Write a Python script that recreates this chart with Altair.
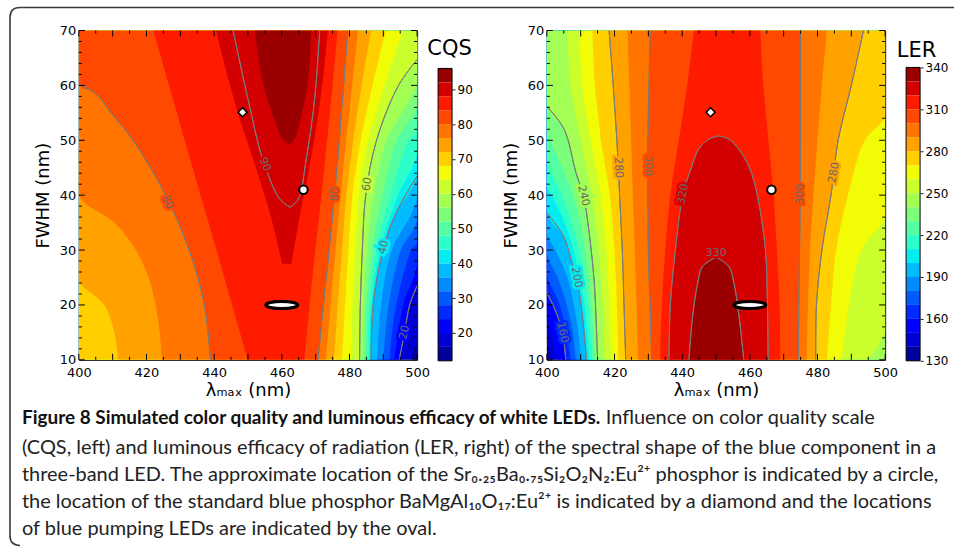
import altair as alt
import pandas as pd

# ---------------------------------------------------------------------------
# Filled-contour data.  For every contour level the rows give
# (FWHM, left lambda, right lambda) of the region where the value >= level.
# ---------------------------------------------------------------------------
CQS_LEVELS = [12, 16, 20, 24, 28, 32, 36, 40, 44, 48, 52, 56, 60, 64, 68, 72, 76, 80, 84, 88, 92]
CQS_TOP = 96
CQS_BOUNDS = {
    12: [(10, 400, 500), (70, 400, 500)],
    16: [(10, 400, 498.0), (14, 400, 500), (70, 400, 500)],
    20: [(10, 400, 494.7), (15, 400, 496.3), (20, 400, 497.8), (23.5, 400, 500), (70, 400, 500)],
    24: [(10, 400, 493.3), (20, 400, 495.9), (27.5, 400, 500), (70, 400, 500)],
    28: [(10, 400, 491.8), (20, 400, 493.8), (30, 400, 498.3), (31.5, 400, 500), (70, 400, 500)],
    32: [(10, 400, 490.0), (20, 400, 491.6), (30, 400, 495.2), (35.5, 400, 500), (70, 400, 500)],
    36: [(10, 400, 488.2), (20, 400, 489.3), (30, 400, 492.5), (39.5, 400, 500), (70, 400, 500)],
    40: [(10, 400, 486.4), (20, 400, 487.0), (30, 400, 489.9), (36.8, 400, 493.8), (43.5, 400, 500), (70, 400, 500)],
    44: [(10, 400, 485.9), (20, 400, 486.4), (30, 400, 489.0), (40, 400, 494.4), (47.7, 400, 500), (70, 400, 500)],
    48: [(10, 400, 485.3), (20, 400, 485.8), (30, 400, 487.9), (40, 400, 492.1), (50, 400, 497.5), (52, 400, 500), (70, 400, 500)],
    52: [(10, 400, 484.6), (20, 400, 485.0), (30, 400, 486.6), (40, 400, 489.7), (50, 400, 494.0), (56.2, 400, 500), (70, 400, 500)],
    56: [(10, 400, 483.8), (20, 400, 484.1), (30, 400, 485.2), (40, 400, 487.2), (50, 400, 491.0), (60.5, 400, 500), (70, 400, 500)],
    60: [(10, 400, 483.0), (20, 400, 483.2), (30, 400, 483.8), (40, 400, 484.8), (50, 400, 488.0), (60, 400, 494.5), (64.7, 400, 500), (70, 400, 500)],
    64: [(10, 400, 480.4), (20, 400, 480.9), (30, 400, 481.7), (40, 400, 482.8), (50, 400, 485.6), (60, 400, 490.4), (70, 400, 495.8)],
    68: [(10, 400, 477.8), (20, 400, 478.7), (30, 400, 479.7), (40, 400, 480.9), (50, 400, 483.3), (60, 400, 486.8), (70, 400, 490.8)],
    72: [(10, 411.6, 475.4), (15, 410.5, 476.0), (20, 407.5, 476.5), (24.4, 400, 477.1), (30, 400, 477.8),
         (40, 400, 479.1), (50, 400, 481.1), (60, 400, 483.6), (70, 400, 486.4)],
    76: [(10, 424.6, 473.0), (15, 423.9, 473.7), (20, 422.7, 474.4), (25, 420.6, 475.1), (30, 416.8, 475.9),
         (35, 410.5, 476.6), (39.9, 400, 477.4), (50, 400, 479.0), (60, 400, 480.8), (70, 400, 482.5)],
    80: [(10, 438.9, 470.7), (20, 437.1, 472.3), (30, 432.6, 474.0), (40, 425.6, 475.6), (50, 416.0, 477.0),
         (55, 409.5, 477.6), (58.4, 405.2, 478.1), (60.2, 400, 478.3), (70, 400, 479.5)],
    84: [(10, 450.0, 466.7), (20, 445.3, 468.2), (30, 440.7, 469.9), (40, 436.0, 471.7), (50, 431.3, 473.4),
         (60, 426.7, 475.0), (70, 422.0, 476.5)],
    88: [(27.5, 460.1, 462.8), (32, 458.4, 464.1), (36.2, 456.7, 465.3), (45.3, 452.2, 468.2),
         (54.4, 447.3, 470.7), (63.5, 443.2, 472.6), (70, 440.6, 473.6)],
    92: [(49.3, 462.3, 462.3), (50.2, 460.3, 463.8), (54.4, 457.4, 465.7), (60.5, 454.4, 467.7), (70, 452.0, 468.7)],
}
CQS_LINE_LEVELS = [20, 40, 60, 80]
# the CQS = 90 iso-line (drawn, not filled)
CQS_LINE_90 = [(37.8, 462.5, 462.5), (39.3, 459.4, 464.9), (46.5, 454.4, 467.2), (57.5, 450.0, 469.7), (70, 445.6, 471.2)]
# label text, lambda, FWHM, rotation, band whose colour surrounds the label
CQS_LABELS = [("80", 426.2, 38.7, 63, "80"), ("90", 455.0, 45.6, 68, "88"), ("80", 475.6, 40.2, 275, "80"),
              ("60", 485.3, 42.0, 280, "60"), ("40", 490.2, 30.5, 285, "40"), ("20", 496.3, 15.0, 283, "20")]
CQS_TICKS = [20, 30, 40, 50, 60, 70, 80, 90]

LER_LEVELS = [130, 140, 150, 160, 170, 180, 190, 200, 210, 220, 230, 240, 250, 260, 270, 280, 290, 300, 310, 320, 330]
LER_TOP = 340
LER_BOUNDS = {
    130: [(10, 400, 500), (70, 400, 500)],
    140: [(10, 401.0, 500), (13.5, 400, 500), (70, 400, 500)],
    150: [(10, 403.2, 500), (15, 401.2, 500), (18.5, 400, 500), (70, 400, 500)],
    160: [(10, 405.6, 500), (15, 404.6, 500), (18.7, 402.7, 500), (22.3, 400, 500), (70, 400, 500)],
    170: [(10, 407.1, 500), (15, 405.8, 500), (20, 403.8, 500), (25.9, 400, 500), (70, 400, 500)],
    180: [(10, 408.6, 500), (15, 407.6, 500), (20, 405.9, 500), (25, 403.2, 500), (29.5, 400, 500), (70, 400, 500)],
    190: [(10, 410.1, 500), (15, 409.3, 500), (20, 408.0, 500), (25, 406.1, 500), (30, 402.5, 500), (33.2, 400, 500), (70, 400, 500)],
    200: [(10, 411.7, 500), (18, 410.5, 500), (25, 408.8, 500), (27.2, 407.6, 500), (32.3, 405.1, 500), (36.8, 400, 500), (70, 400, 500)],
    210: [(10, 412.5, 500), (20, 411.1, 500), (30, 407.9, 500), (35, 405.3, 500), (40, 401.5, 500), (41.7, 400, 500), (70, 400, 500)],
    220: [(10, 413.4, 500), (20, 412.2, 500), (30, 409.6, 500), (40, 404.5, 500), (46.6, 400, 500), (70, 400, 500)],
    230: [(10, 414.2, 500), (20, 413.2, 500), (30, 411.3, 500), (40, 407.7, 500), (50, 401.0, 500), (51.5, 400, 500), (70, 400, 500)],
    240: [(10, 415.0, 500), (15, 414.7, 500), (24.1, 414.0, 500), (33.2, 412.5, 500), (39.9, 410.8, 500),
          (44.1, 408.6, 500), (52, 405.1, 500), (56.2, 400, 500), (70, 400, 500)],
    250: [(10, 417.1, 495.0), (15, 416.8, 500), (20, 416.4, 500), (30, 415.3, 500), (40, 413.3, 500),
          (50, 410.0, 500), (60, 407.0, 500), (70, 406.1, 500)],
    260: [(10, 419.1, 487.2), (20, 418.5, 489.3), (30, 417.6, 493.0), (36, 416.6, 500), (40, 416.0, 500),
          (50, 413.0, 500), (60, 410.5, 500), (70, 409.5, 500)],
    270: [(10, 421.2, 482.8), (20, 420.7, 484.0), (30, 420.0, 485.5), (40, 418.6, 489.0), (50, 416.0, 494.0),
          (54.4, 415.2, 500), (60, 414.2, 500), (70, 413.5, 500)],
    280: [(10, 423.3, 479.5), (20, 422.8, 479.7), (30, 422.3, 481.3), (40, 421.5, 484.0), (50, 420.7, 486.1),
          (60, 419.6, 490.0), (70, 418.4, 493.6)],
    290: [(10, 427.0, 476.8), (20, 426.5, 477.2), (30, 426.0, 477.8), (40, 425.4, 478.8), (50, 424.9, 480.0),
          (60, 424.4, 481.3), (70, 423.8, 482.8)],
    300: [(10, 431.0, 474.3), (20, 430.5, 474.5), (30, 430.0, 474.7), (40, 429.8, 474.9), (50, 429.8, 475.0),
          (60, 430.2, 475.0), (70, 430.5, 475.0)],
    310: [(10, 433.5, 469.0), (20, 434.0, 468.8), (30, 435.0, 468.0), (40, 436.5, 467.0), (50, 439.0, 465.5),
          (60, 441.5, 464.0), (70, 443.5, 463.1)],
    320: [(10, 436.1, 465.4), (20, 436.5, 465.2), (30, 438.0, 464.6), (40, 440.2, 462.2), (45, 442.7, 459.9),
          (48.4, 444.9, 456.7), (50.2, 447.9, 453.8), (50.8, 450.8, 450.8)],
    330: [(10, 442.0, 458.2), (18, 443.1, 456.8), (24, 444.6, 455.3), (27, 446.0, 453.8), (28.7, 450.0, 450.0)],
}
LER_LINE_LEVELS = [160, 200, 240, 280, 300, 320, 330]
LER_LABELS = [("160", 404.6, 15.0, 78, "160"), ("200", 408.8, 25.0, 79, "200"), ("240", 410.8, 39.9, 77, "240"),
              ("280", 421.1, 45.0, 87, "280"), ("300", 429.8, 45.3, 90, "300"), ("320", 440.3, 40.2, 281, "320"),
              ("330", 450.1, 29.4, 0, "320"), ("300", 474.9, 40.2, 270, "300"), ("280", 484.9, 44.1, 281, "280")]
LER_TICKS = [130, 160, 190, 220, 250, 280, 310, 340]

# phosphor / LED locations (lambda_max, FWHM)
DIAMOND = (448.4, 55.1)
CIRCLE = (466.4, 41.0)
OVAL = (460.0, 20.0)

X_LABELS = [400, 420, 440, 460, 480, 500]
Y_LABELS = [10, 20, 30, 40, 50, 60, 70]
X_MAJOR = [400, 410, 420, 430, 440, 450, 460, 470, 480, 490, 500]
X_MINOR = [405, 415, 425, 435, 445, 455, 465, 475, 485, 495]
Y_MAJOR = [10, 20, 30, 40, 50, 60, 70]
Y_MINOR = [12, 14, 16, 18, 22, 24, 26, 28, 32, 34, 36, 38, 42, 44, 46, 48, 52, 54, 56, 58, 62, 64, 66, 68]

CAPTION_BOLD = "Figure 8 Simulated color quality and luminous efficacy of white LEDs."
CAPTION_REST = "Influence on color quality scale"
CAPTION_LINES = [
    "(CQS, left) and luminous efficacy of radiation (LER, right) of the spectral shape of the blue component in a",
    "three-band LED. The approximate location of the Sr\u2080.\u2082\u2085Ba\u2080.\u2087\u2085Si\u2082O\u2082N\u2082:Eu\u00b2\u207a phosphor is indicated by a circle,",
    "the location of the standard blue phosphor BaMgAl\u2081\u2080O\u2081\u2087:Eu\u00b2\u207a is indicated by a diamond and the locations",
    "of blue pumping LEDs are indicated by the oval.",
]

# ---------------------------------------------------------------------------
W, H = 339, 330          # plot area of each panel
FONT = "DejaVu Sans"
CAP_FONT = "Lato, Liberation Sans, sans-serif"
LINE_GRAY = "#7a7a7a"

JET = {
    "r": [(0, 0), (0.35, 0), (0.66, 1), (0.89, 1), (1, 0.5)],
    "g": [(0, 0), (0.125, 0), (0.375, 1), (0.64, 1), (0.91, 0), (1, 0)],
    "b": [(0, 0.5), (0.11, 1), (0.34, 1), (0.65, 0), (1, 0)],
}


def _piece(pts, v):
    for (x0, y0), (x1, y1) in zip(pts[:-1], pts[1:]):
        if x0 <= v <= x1:
            return y0 + (y1 - y0) * (v - x0) / (x1 - x0)
    return pts[-1][1]


def jet(v):
    return "#" + "".join("%02x" % round(255 * _piece(JET[c], v)) for c in "rgb")


def band_colors(levels, top):
    uppers = levels[1:] + [top]
    return [jet(((lo + hi) / 2 - levels[0]) / (top - levels[0])) for lo, hi in zip(levels, uppers)]


def branches(rows):
    """Left and right boundary curves of a region, without the parts lying on the frame."""
    out = []
    for idx, edge in ((1, 400), (2, 500)):
        pts = [(r[0], r[idx]) for r in rows]
        inner = [abs(x - edge) > 1e-9 for _, x in pts]
        if not any(inner):
            continue
        n = len(pts)
        keep = [inner[i] or (i > 0 and inner[i - 1]) or (i < n - 1 and inner[i + 1]) for i in range(n)]
        out.append([p for p, k in zip(pts, keep) if k])
    return out


def build_panel(levels, top, bounds, line_levels, extra_lines, labels, cb_ticks, cb_title,
                cb_top, title_dx, title_dy, extra_layers=()):
    names = [str(v) for v in levels]
    colors = band_colors(levels, top)
    cscale = alt.Scale(domain=names, range=colors)
    sscale = alt.Scale(domain=names, range=colors)
    xs = alt.Scale(domain=[400, 500], nice=False, zero=False)
    ys = alt.Scale(domain=[10, 70], nice=False, zero=False)
    xax = alt.Axis(values=X_LABELS, format="d", title="\u03bb\u2098\u2090\u2093 (nm)", labelFont=FONT,
                   labelFontSize=13, labelColor="black", titleFont=FONT, titleFontSize=18,
                   titleFontWeight="normal", titleColor="black", ticks=False, domain=False, grid=False,
                   labelPadding=7, titlePadding=2, labelFlush=False, labelOverlap=False)
    yax = alt.Axis(values=Y_LABELS, format="d", title="FWHM (nm)", labelFont=FONT, labelFontSize=13,
                   labelColor="black", titleFont=FONT, titleFontSize=18, titleFontWeight="normal",
                   titleColor="black", ticks=False, domain=False, grid=False, labelPadding=3,
                   titlePadding=7, labelFlush=False, labelOverlap=False)

    def X(f):
        return alt.X(f"{f}:Q", scale=xs, axis=xax, stack=False)

    def Y(f):
        return alt.Y(f"{f}:Q", scale=ys, axis=yax)

    layers = []
    # filled bands: each level painted over the lower ones
    for lv in levels:
        df = pd.DataFrame(bounds[lv], columns=["fwhm", "lo", "hi"])
        df["band"] = str(lv)
        layers.append(
            alt.Chart(df).mark_area(orient="horizontal", interpolate="catmull-rom", clip=True).encode(
                x=X("lo"), x2="hi:Q", y=Y("fwhm"),
                color=alt.Color("band:N", scale=cscale, legend=None)))

    # iso-lines
    recs = []
    sources = [(str(lv), bounds[lv]) for lv in line_levels] + [(f"x{i}", r) for i, r in enumerate(extra_lines)]
    for key, rows in sources:
        for k, br in enumerate(branches(rows)):
            for f, x in br:
                recs.append({"fwhm": f, "lx": x, "seg": f"{key}-{k}"})
    ldf = pd.DataFrame(recs)
    layers.append(
        alt.Chart(ldf).mark_area(orient="horizontal", interpolate="catmull-rom", fillOpacity=0,
                                 stroke=LINE_GRAY, strokeWidth=1, clip=True).encode(
            x=X("lx"), x2="lx:Q", y=Y("fwhm"), detail="seg:N"))

    # inline contour labels: a halo in the surrounding band colour hides the line under the text
    lab = pd.DataFrame(labels, columns=["t", "lam", "fwhm", "ang", "band"])
    layers.append(
        alt.Chart(lab).mark_text(font=FONT, fontSize=11, align="center", baseline="middle",
                                 strokeWidth=5).encode(
            x=X("lam"), y=Y("fwhm"), text="t:N", angle=alt.Angle("ang:Q", scale=None),
            color=alt.Color("band:N", scale=cscale, legend=None),
            stroke=alt.Stroke("band:N", scale=sscale, legend=None)))
    layers.append(
        alt.Chart(lab).mark_text(font=FONT, fontSize=11, color="#6a6a6a", align="center",
                                 baseline="middle").encode(
            x=X("lam"), y=Y("fwhm"), text="t:N", angle=alt.Angle("ang:Q", scale=None)))

    # markers
    def pt(p):
        return pd.DataFrame({"lam": [p[0]], "fwhm": [p[1]]})

    layers.append(alt.Chart(pt(OVAL)).mark_point(
        shape="M-1,0A1,0.22,0,1,0,1,0A1,0.22,0,1,0,-1,0Z", size=1024, filled=True, fill="white",
        stroke="black", strokeWidth=3, opacity=1).encode(x=X("lam"), y=Y("fwhm")))
    layers.append(alt.Chart(pt(CIRCLE)).mark_point(
        shape="circle", size=72, filled=True, fill="white", stroke="black", strokeWidth=2,
        opacity=1).encode(x=X("lam"), y=Y("fwhm")))
    layers.append(alt.Chart(pt(DIAMOND)).mark_point(
        shape="diamond", size=80, filled=True, fill="white", stroke="black", strokeWidth=1.5,
        opacity=1).encode(x=X("lam"), y=Y("fwhm")))

    # inward ticks on all four sides
    for vals, ln in ((X_MAJOR, 6), (X_MINOR, 3)):
        d = pd.DataFrame({"t": vals})
        layers.append(alt.Chart(d).mark_rule(color="black", strokeWidth=1).encode(
            x=X("t"), y=alt.value(H), y2=alt.value(H - ln)))
        layers.append(alt.Chart(d).mark_rule(color="black", strokeWidth=1).encode(
            x=X("t"), y=alt.value(0), y2=alt.value(ln)))
    for vals, ln in ((Y_MAJOR, 6), (Y_MINOR, 3)):
        d = pd.DataFrame({"t": vals})
        layers.append(alt.Chart(d).mark_rule(color="black", strokeWidth=1).encode(
            y=Y("t"), x=alt.value(0), x2=alt.value(ln)))
        layers.append(alt.Chart(d).mark_rule(color="black", strokeWidth=1).encode(
            y=Y("t"), x=alt.value(W), x2=alt.value(W - ln)))

    layers.extend(extra_layers)
    main = alt.layer(*layers)

    # colour bar
    cys = alt.Scale(domain=[levels[0], top], range=[H + 1, cb_top], nice=False, zero=False)
    cbax = alt.Axis(orient="right", offset=35, values=cb_ticks, format="d", labelFont=FONT,
                    labelFontSize=12, labelColor="black", ticks=True, tickSize=3, tickColor="#222",
                    domain=False, grid=False, labelPadding=2, labelFlush=False, labelOverlap=False,
                    title=cb_title, titleAngle=0, titleFont=FONT, titleFontSize=21,
                    titleFontWeight="normal", titleColor="black", titleAlign="center",
                    titleBaseline="alphabetic", titleX=title_dx, titleY=title_dy)
    cb = pd.DataFrame({"band": names, "lo": levels, "hi": levels[1:] + [top]})
    bar = alt.Chart(cb).mark_rect().encode(
        x=alt.value(360), x2=alt.value(374), y=alt.Y("lo:Q", scale=cys, axis=cbax), y2="hi:Q",
        color=alt.Color("band:N", scale=cscale, legend=None))
    frame = alt.Chart(pd.DataFrame({"lo": [levels[0]], "hi": [top]})).mark_rect(
        filled=False, stroke="black", strokeWidth=1).encode(
        x=alt.value(360), x2=alt.value(374), y=alt.Y("lo:Q", scale=cys, axis=cbax), y2="hi:Q")
    cbar = alt.layer(bar, frame)

    return alt.layer(main, cbar).resolve_scale(y="independent").properties(width=W, height=H)


# caption text and the figure frame, positioned relative to the left plot area
one = pd.DataFrame({"a": [0]})
caption_layers = [
    alt.Chart(one).mark_point(
        shape="M0.01,0.539Q0,0.539,0,0.529L0,0.01Q0,0,0.01,0L0.946,0", size=4.0e6, filled=False,
        stroke="#3a3a3a", strokeWidth=1.6, opacity=1).encode(x=alt.value(-69), y=alt.value(-23)),
    alt.Chart(one).mark_text(font=CAP_FONT, fontSize=19, fontWeight="bold", color="#111",
                             align="left", baseline="alphabetic").encode(
        x=alt.value(-57), y=alt.value(394), text=alt.value(CAPTION_BOLD)),
    alt.Chart(one).mark_text(font=CAP_FONT, fontSize=20, color="#222", align="left",
                             baseline="alphabetic").encode(
        x=alt.value(528), y=alt.value(394), text=alt.value(CAPTION_REST)),
]
for i, line in enumerate(CAPTION_LINES):
    caption_layers.append(
        alt.Chart(one).mark_text(font=CAP_FONT, fontSize=20, color="#222", align="left",
                                 baseline="alphabetic").encode(
            x=alt.value(-57), y=alt.value(424.5 + 27 * i), text=alt.value(line)))

left = build_panel(CQS_LEVELS, CQS_TOP, CQS_BOUNDS, CQS_LINE_LEVELS, [CQS_LINE_90], CQS_LABELS,
                   CQS_TICKS, "CQS", 38, -3, 24, caption_layers)
right = build_panel(LER_LEVELS, LER_TOP, LER_BOUNDS, LER_LINE_LEVELS, [], LER_LABELS,
                    LER_TICKS, "LER", 37, -4, 26)

chart = alt.hconcat(left, right, spacing=130, bounds="flush").resolve_scale(
    color="independent", stroke="independent").properties(
    padding={"left": 6, "top": 3, "right": 0, "bottom": 0}, background="white"
).configure_view(stroke="black", strokeWidth=1)

chart.save("out.html", embed_options={"renderer": "svg", "actions": False})
